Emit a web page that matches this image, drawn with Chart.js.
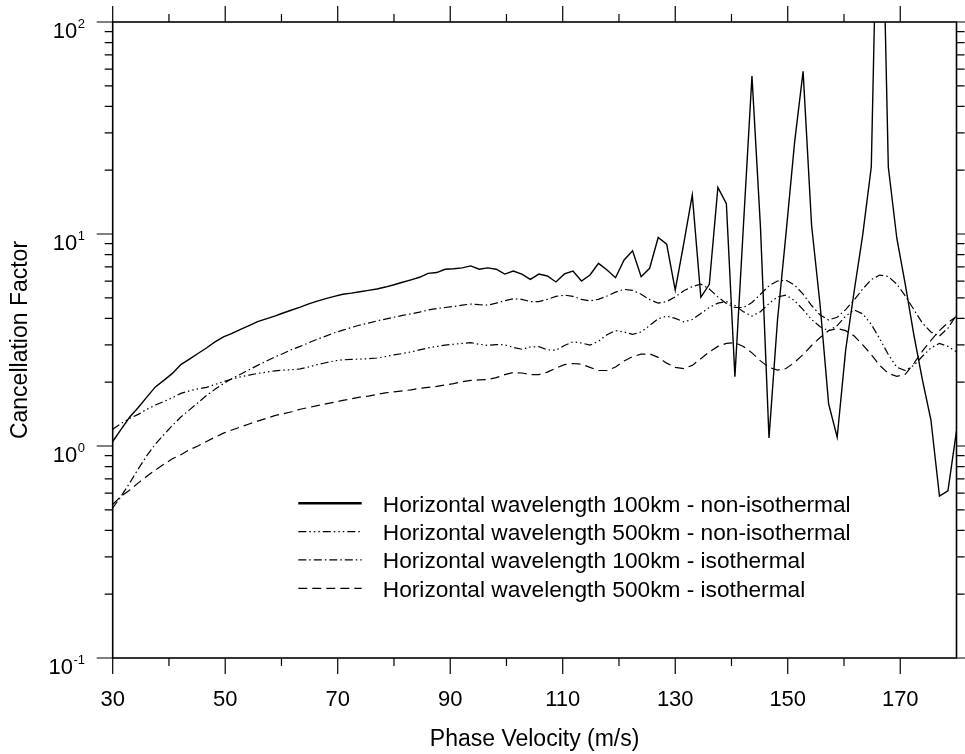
<!DOCTYPE html>
<html><head><meta charset="utf-8">
<script src="https://cdn.jsdelivr.net/npm/chart.js@4.4.1/dist/chart.umd.min.js"></script>
<style>html,body{margin:0;padding:0;background:#fff;} canvas{display:block;}</style>
</head><body>
<canvas id="c" width="965" height="754"></canvas>
<script>
const velocity = [30.00,31.52,33.03,34.55,36.06,37.58,39.09,40.61,42.12,43.64,
45.15,46.67,48.18,49.70,51.21,52.73,54.24,55.76,57.27,58.79,
60.30,61.82,63.33,64.85,66.36,67.88,69.39,70.91,72.42,73.94,
75.45,76.97,78.48,80.00,81.52,83.03,84.55,86.06,87.58,89.09,
90.61,92.12,93.64,95.15,96.67,98.18,99.70,101.21,102.73,104.24,
105.76,107.27,108.79,110.30,111.82,113.33,114.85,116.36,117.88,119.39,
120.91,122.42,123.94,125.45,126.97,128.48,130.00,131.52,133.03,134.55,
136.06,137.58,139.09,140.61,142.12,143.64,145.15,146.67,148.18,149.70,
151.21,152.73,154.24,155.76,157.27,158.79,160.30,161.82,163.33,164.85,
166.36,167.88,169.39,170.91,172.42,173.94,175.45,176.97,178.48,180.00];

const cf100NonIso = [1.05,1.2,1.37,1.52,1.7,1.9,2.04,2.2,2.42,2.57,
2.73,2.9,3.1,3.27,3.4,3.55,3.7,3.86,3.98,4.1,
4.24,4.38,4.52,4.68,4.82,4.96,5.08,5.2,5.26,5.34,
5.42,5.5,5.62,5.76,5.92,6.08,6.25,6.52,6.58,6.82,
6.86,6.92,7.07,6.82,6.92,6.82,6.47,6.69,6.47,6.11,
6.47,6.34,5.94,6.48,6.69,6.0,6.41,7.27,6.76,6.22,
7.54,8.33,6.29,6.89,9.62,8.95,5.44,9.03,15.3,5.03,
5.79,16.6,13.9,2.12,10.9,55.6,10.8,1.09,3.93,10.1,
26.9,58.5,11.0,4.6,1.58,1.1,2.84,5.4,9.9,20.7,
1500,20.7,9.55,5.75,3.34,2.05,1.33,0.58,0.615,1.18];

const cf500NonIso = [1.20,1.28,1.35,1.41,1.49,1.56,1.62,1.69,1.77,1.82,
1.86,1.89,1.95,2.01,2.07,2.12,2.16,2.2,2.23,2.26,
2.28,2.29,2.31,2.36,2.42,2.47,2.52,2.55,2.56,2.57,
2.58,2.6,2.64,2.69,2.73,2.78,2.84,2.9,2.95,2.99,
3.02,3.05,3.07,3.02,2.98,3.01,3.0,2.92,2.86,2.93,
2.94,2.84,2.83,2.98,3.1,3.06,2.99,3.12,3.35,3.5,
3.45,3.36,3.45,3.7,3.98,4.1,4.0,3.85,3.95,4.22,
4.5,4.72,4.8,4.6,4.3,4.1,4.3,4.7,5.05,5.15,
4.85,4.4,3.95,3.65,3.5,3.7,4.1,4.38,4.2,3.75,
3.2,2.7,2.35,2.27,2.4,2.65,2.9,3.05,2.95,2.78];

const cf100Iso = [0.51,0.58,0.67,0.78,0.9,1.02,1.13,1.25,1.37,1.48,
1.6,1.73,1.85,1.97,2.08,2.18,2.29,2.4,2.51,2.63,
2.73,2.85,2.95,3.07,3.19,3.3,3.42,3.52,3.62,3.72,
3.8,3.89,3.97,4.05,4.13,4.2,4.28,4.38,4.45,4.5,
4.55,4.62,4.67,4.64,4.62,4.72,4.85,4.95,4.92,4.8,
4.8,4.92,5.08,5.15,5.08,4.92,4.84,4.92,5.1,5.32,
5.48,5.42,5.2,4.9,4.72,4.8,5.05,5.4,5.65,5.8,
5.5,5.05,4.7,4.5,4.5,4.75,5.2,5.7,6.0,6.05,
5.75,5.2,4.6,4.15,3.93,4.05,4.4,4.9,5.5,6.1,
6.4,6.3,5.8,5.1,4.4,3.8,3.45,3.3,3.6,4.15];

const cf500Iso = [0.53,0.58,0.62,0.67,0.72,0.77,0.82,0.87,0.91,0.96,
1.0,1.05,1.1,1.15,1.19,1.23,1.27,1.31,1.35,1.39,
1.42,1.45,1.49,1.52,1.55,1.58,1.61,1.64,1.67,1.7,
1.72,1.75,1.78,1.8,1.82,1.84,1.87,1.89,1.91,1.94,
1.97,2.01,2.04,2.05,2.06,2.1,2.17,2.22,2.21,2.17,
2.17,2.23,2.33,2.42,2.45,2.43,2.35,2.27,2.27,2.36,
2.52,2.64,2.71,2.72,2.62,2.46,2.35,2.32,2.4,2.58,
2.78,2.95,3.05,3.07,2.95,2.75,2.52,2.35,2.28,2.32,
2.48,2.7,2.98,3.25,3.5,3.58,3.5,3.3,3.0,2.7,
2.4,2.2,2.13,2.18,2.45,2.8,3.15,3.5,3.82,4.08];

const seriesLabels = [
  'Horizontal wavelength 100km - non-isothermal',
  'Horizontal wavelength 500km - non-isothermal',
  'Horizontal wavelength 100km - isothermal',
  'Horizontal wavelength 500km - isothermal'
];
const xTickLabels = [30, 50, 70, 90, 110, 130, 150, 170];
const xMinorTicks = [40, 60, 80, 100, 120, 140, 160];
const yTickValues = [0.1, 1, 10, 100];
const yTickExponents = ['-1', '0', '1', '2'];
const xTitle = 'Phase Velocity (m/s)';
const yTitle = 'Cancellation Factor';

const FONT = '"Liberation Sans", Arial, Helvetica, sans-serif';

function pts(arr) { return velocity.map((x, i) => ({ x: x, y: arr[i] })); }

const styles = [
  { dash: [], width: 1.4, legendWidth: 2.6 },
  { dash: [8, 3, 1.5, 3, 1.5, 3, 1.5, 3], width: 1.2, legendWidth: 1.2 },
  { dash: [8, 3, 1.5, 3], width: 1.2, legendWidth: 1.2 },
  { dash: [9, 5], width: 1.2, legendWidth: 1.2 }
];
const seriesData = [cf100NonIso, cf500NonIso, cf100Iso, cf500Iso];

const datasets = seriesData.map((arr, k) => ({
  label: seriesLabels[k],
  data: pts(arr),
  borderColor: '#000',
  borderWidth: styles[k].width,
  borderDash: styles[k].dash,
  pointRadius: 0,
  tension: 0,
  fill: false,
  clip: 0
}));

const decor = {
  id: 'decor',
  afterDatasetsDraw(chart) {
    const ctx = chart.ctx;
    const a = chart.chartArea;
    const xs = chart.scales.x, ys = chart.scales.y;
    ctx.save();
    ctx.strokeStyle = '#000';
    ctx.setLineDash([]);
    ctx.lineWidth = 1.2;
    ctx.beginPath();
    const xt = xTickLabels.map(v => [v, 16]).concat(xMinorTicks.map(v => [v, 8]));
    xt.forEach(([v, len]) => {
      const px = xs.getPixelForValue(v);
      ctx.moveTo(px, a.top); ctx.lineTo(px, a.top - len);
      ctx.moveTo(px, a.bottom); ctx.lineTo(px, a.bottom + len);
    });
    for (let d = 0; d < yTickValues.length; d++) {
      const base = yTickValues[d];
      const py = ys.getPixelForValue(base);
      ctx.moveTo(a.left, py); ctx.lineTo(a.left - 16, py);
      ctx.moveTo(a.right, py); ctx.lineTo(a.right + 16, py);
      if (d < yTickValues.length - 1) {
        for (let m = 2; m <= 9; m++) {
          const pm = ys.getPixelForValue(base * m);
          ctx.moveTo(a.left, pm); ctx.lineTo(a.left - 8, pm);
          ctx.moveTo(a.right, pm); ctx.lineTo(a.right + 8, pm);
        }
      }
    }
    ctx.stroke();
    ctx.lineWidth = 1.6;
    ctx.strokeRect(a.left, a.top, a.right - a.left, a.bottom - a.top);
    ctx.fillStyle = '#000';
    ctx.textBaseline = 'alphabetic';
    ctx.textAlign = 'right';
    const rightEdge = 85;
    yTickValues.forEach((v, i) => {
      const py = ys.getPixelForValue(v);
      ctx.font = '13px ' + FONT;
      const ew = ctx.measureText(yTickExponents[i]).width;
      ctx.fillText(yTickExponents[i], rightEdge, py + 6.3);
      ctx.font = '22px ' + FONT;
      ctx.fillText('10', rightEdge - ew - 0.5, py + 15.6);
    });
    ctx.textAlign = 'left';
    ctx.font = '22.7px ' + FONT;
    chart.data.datasets.forEach((ds, k) => {
      const base = 511.7 + k * 28.33;
      const ly = base - 8.4;
      ctx.beginPath();
      ctx.lineWidth = styles[k].legendWidth;
      ctx.setLineDash(ds.borderDash || []);
      ctx.moveTo(298.3, ly); ctx.lineTo(361.7, ly);
      ctx.stroke();
      ctx.setLineDash([]);
      ctx.fillText(ds.label, 382.8, base);
    });
    ctx.restore();
  }
};

new Chart(document.getElementById('c'), {
  type: 'line',
  data: { datasets: datasets },
  options: {
    responsive: false,
    animation: false,
    devicePixelRatio: 1,
    layout: { autoPadding: false, padding: { top: 22, right: 8.5, bottom: 0, left: 0 } },
    plugins: { legend: { display: false }, tooltip: { enabled: false }, title: { display: false } },
    scales: {
      x: {
        type: 'linear', min: 30, max: 180,
        grid: { display: false, drawTicks: false },
        border: { display: false },
        ticks: {
          stepSize: 10, autoSkip: false, maxRotation: 0, padding: 29,
          color: '#000', font: { family: FONT, size: 22 },
          callback: (v) => xTickLabels.includes(v) ? String(v) : ''
        },
        title: { display: true, text: xTitle, color: '#000', font: { family: FONT, size: 23 }, padding: { top: 0, bottom: 1 } },
        afterFit: (s) => { s.height = 96; s.paddingLeft = 0; s.paddingRight = 0; }
      },
      y: {
        type: 'logarithmic', min: 0.1, max: 100,
        grid: { display: false, drawTicks: false },
        border: { display: false },
        ticks: { display: false },
        title: { display: true, text: yTitle, color: '#000', font: { family: FONT, size: 23 }, padding: { top: 7, bottom: 0 } },
        afterFit: (s) => { s.width = 112.7; s.paddingTop = 0; s.paddingBottom = 0; }
      }
    }
  },
  plugins: [decor]
});
</script>
</body></html>
